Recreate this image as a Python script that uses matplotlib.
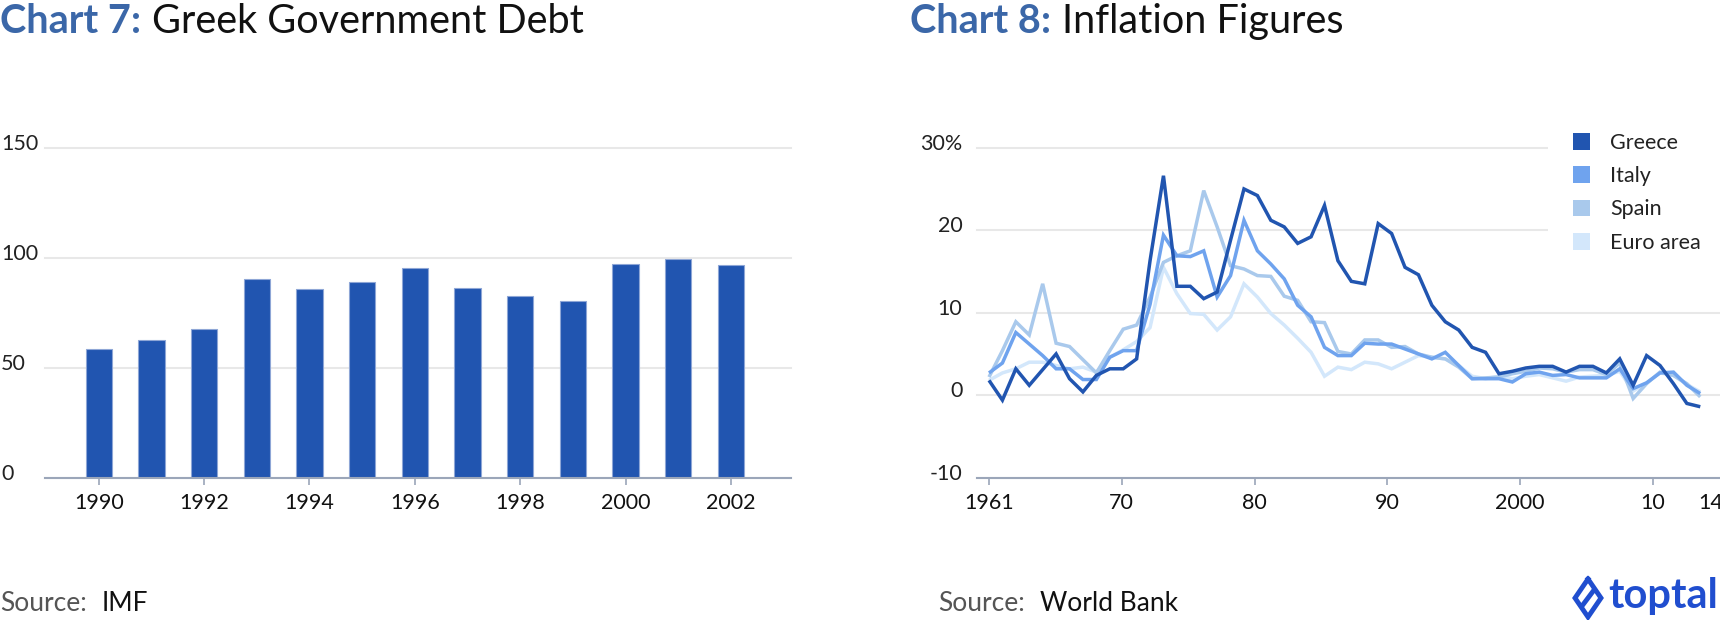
import numpy as np
import matplotlib.pyplot as plt
from matplotlib.patches import Patch
from matplotlib.lines import Line2D
from matplotlib.transforms import ScaledTranslation

plt.rcParams['font.family'] = ['Lato', 'DejaVu Sans']

# Chart 7: Greek government debt (% of GDP)
debt_years = list(range(1990, 2003))
debt = [58.3, 62.4, 67.7, 90.2, 85.8, 88.9, 95.3, 86.1, 82.6, 80.5, 97.1, 99.2, 96.5]

# Chart 8: inflation, 1961-2014
infl_years = list(range(1961, 2015))
greece = [1.8, -0.6, 3.2, 1.2, 3.1, 5.0, 2.0, 0.4, 2.4, 3.2, 3.2, 4.4, 16.3, 26.6,
          13.2, 13.2, 11.7, 12.5, 18.8, 25.0, 24.2, 21.2, 20.4, 18.4, 19.2, 23.0,
          16.3, 13.8, 13.5, 20.8, 19.6, 15.5, 14.6, 10.9, 8.9, 7.9, 5.8, 5.2, 2.6,
          2.9, 3.3, 3.5, 3.5, 2.8, 3.5, 3.5, 2.7, 4.4, 1.2, 4.8, 3.6, 1.4, -1.0, -1.4]
italy = [2.7, 3.9, 7.6, 6.2, 4.8, 3.2, 3.2, 1.9, 1.9, 4.6, 5.4, 5.4, 11.0, 19.4,
         16.9, 16.8, 17.5, 11.9, 14.5, 21.2, 17.5, 15.9, 14.1, 10.9, 9.5, 5.8,
         4.8, 4.8, 6.3, 6.2, 6.2, 5.6, 5.0, 4.4, 5.2, 3.6, 2.0, 2.0, 2.0, 1.6,
         2.6, 2.8, 2.4, 2.5, 2.1, 2.1, 2.1, 3.2, 0.8, 1.5, 2.7, 2.8, 1.2, 0.2]
spain = [2.2, 5.4, 8.9, 7.3, 13.5, 6.3, 5.9, 4.3, 2.7, 5.4, 8.0, 8.5, 11.9, 16.1,
         16.9, 17.5, 24.8, 20.4, 15.7, 15.3, 14.5, 14.4, 12.0, 11.5, 8.9, 8.8,
         5.3, 5.0, 6.7, 6.7, 5.8, 5.9, 5.0, 4.6, 4.4, 3.4, 2.0, 2.1, 2.2, 2.6,
         2.9, 3.3, 3.2, 2.8, 3.1, 3.1, 2.5, 3.9, -0.4, 1.4, 2.8, 2.4, 1.4, -0.2]
euro = [1.8, 2.7, 3.2, 4.0, 4.0, 3.6, 3.2, 3.4, 2.8, 4.6, 5.5, 6.5, 8.2, 15.5,
        12.3, 9.9, 9.8, 7.9, 9.5, 13.5, 11.9, 9.9, 8.5, 6.9, 5.2, 2.3, 3.4, 3.1,
        4.0, 3.8, 3.2, 4.0, 4.8, 4.6, 4.4, 3.6, 2.3, 2.0, 2.3, 2.0, 2.3, 2.5,
        2.1, 1.7, 2.2, 2.3, 2.4, 2.9, 0.5, 1.5, 2.7, 2.4, 1.3, 0.4]
series_names = ['Greece', 'Italy', 'Spain', 'Euro area']
series_colors = ['#2155b0', '#6fa3ee', '#a9c9ec', '#d3e7fb']

x_tick_labels = ['1961', '70', '80', '90', '2000', '10']

W, H = 1720, 620


def fx(px):
    return px / W


def fy(py):
    return 1 - py / H


fig = plt.figure(figsize=(W / 100, H / 100), dpi=100)

axis_col = '#9ba6b9'
grid_col = '#e8e8e8'
tick_size = 15.5
label_up = ScaledTranslation(0, 6 / 100, fig.dpi_scale_trans)


def style_axes(ax):
    for s in ['left', 'right', 'top']:
        ax.spines[s].set_visible(False)
    ax.spines['bottom'].set_color(axis_col)
    ax.spines['bottom'].set_linewidth(1.5)
    ax.spines['bottom'].set_zorder(5)
    ax.set_axisbelow(True)
    ax.yaxis.grid(True, color=grid_col, linewidth=1.5)
    for gl in ax.get_ygridlines():
        gl.set_clip_on(False)
    ax.tick_params(axis='y', length=0, labelsize=tick_size, labelcolor='#222222')
    ax.tick_params(axis='x', direction='out', length=4.8, width=1.2, color=axis_col,
                   labelsize=tick_size, labelcolor='#111111', pad=6)
    for lab in ax.get_yticklabels():
        lab.set_transform(lab.get_transform() + label_up)


# ---- Chart 7 ----
ax1 = fig.add_axes([fx(45), fy(477.7), fx(791) - fx(45), (477.7 - 147.7) / H])
ax1.bar(debt_years, debt, width=0.5, color='#2155b0', edgecolor='#8ea6d6',
        linewidth=0.8, zorder=3)
ax1.set_xlim(1988.98, 2003.14)
ax1.set_ylim(0, 150)
ax1.set_yticks([0, 50, 100, 150])
ax1.set_yticklabels(['0', '50', '100', '150'])
ax1.set_xticks(range(1990, 2003, 2))
ax1.tick_params(axis='y', pad=31.5)
for lab in ax1.get_yticklabels():
    lab.set_horizontalalignment('left')
style_axes(ax1)

# ---- Chart 8 ----
ax2 = fig.add_axes([fx(977), fy(477.7), 1 - fx(977), (477.7 - 147.7) / H])
for vals, col, z in [(euro, series_colors[3], 3), (spain, series_colors[2], 4),
                     (italy, series_colors[1], 5), (greece, series_colors[0], 6)]:
    ax2.plot(infl_years, vals, color=col, linewidth=2.5, zorder=z,
             solid_joinstyle='miter', solid_capstyle='butt')
ax2.set_xlim(1960.106, 2015.47)
ax2.set_ylim(-10, 30)
ax2.set_yticks([-10, 0, 10, 20, 30])
ax2.set_yticklabels(['-10', '0', '10', '20', '30%'])
ax2.set_xticks(np.linspace(1961, 2010.46, 6))
ax2.set_xticklabels(x_tick_labels)
ax2.set_xticks([2014.75], minor=True)
ax2.set_xticklabels(['14'], minor=True)
ax2.tick_params(axis='y', pad=10.6)
style_axes(ax2)
ax2.tick_params(axis='x', which='minor', length=0, labelsize=tick_size,
                labelcolor='#111111', pad=6 + 4.8)

handles = [Patch(facecolor=c, edgecolor='none') for c in series_colors]
leg = ax2.legend(handles, series_names, loc='upper left',
                 bbox_to_anchor=(fx(1548), fy(108)), bbox_transform=fig.transFigure,
                 frameon=True, fancybox=False, edgecolor='none', facecolor='white',
                 framealpha=1, fontsize=15.5, handlelength=0.8, handleheight=0.8,
                 handletextpad=0.95, labelspacing=0.62, borderpad=1.15,
                 borderaxespad=0)
leg.set_zorder(10)
for t in leg.get_texts():
    t.set_color('#222222')

# ---- titles ----
for x0, num, rest in [(0, 'Chart 7:', 'Greek Government Debt'),
                      (910, 'Chart 8:', 'Inflation Figures')]:
    t = fig.text(fx(x0), fy(33), num, fontsize=28.5, fontweight='bold',
                 color='#3b67a8', va='baseline')
    ax1.annotate(rest, xy=(1, 0), xycoords=t, xytext=(8, 0),
                 textcoords='offset points', va='bottom', fontsize=28.5,
                 color='#111111', annotation_clip=False)

# ---- sources ----
for x0, src in [(0, 'IMF'), (938, 'World Bank')]:
    t = fig.text(fx(x0), fy(611), 'Source:', fontsize=19, color='#555555',
                 va='baseline')
    ax1.annotate(src, xy=(1, 0), xycoords=t, xytext=(11, 0),
                 textcoords='offset points', va='bottom', fontsize=19,
                 color='#111111', annotation_clip=False)

# ---- toptal logo ----
fig.text(fx(1718), fy(608), 'toptal', fontsize=30, fontweight='bold',
         color='#204ecf', ha='right', va='baseline')
mark_x = [1588, 1601, 1588, 1575, 1588]
mark_y = [579, 598, 617, 598, 579]
fig.add_artist(Line2D([fx(v) for v in mark_x], [fy(v) for v in mark_y],
                      transform=fig.transFigure, color='#204ecf', linewidth=3.5,
                      solid_joinstyle='miter'))
fig.add_artist(Line2D([fx(1582), fx(1594)], [fy(606), fy(590)],
                      transform=fig.transFigure, color='#204ecf', linewidth=3.5))

plt.savefig('out.png', dpi=100)
